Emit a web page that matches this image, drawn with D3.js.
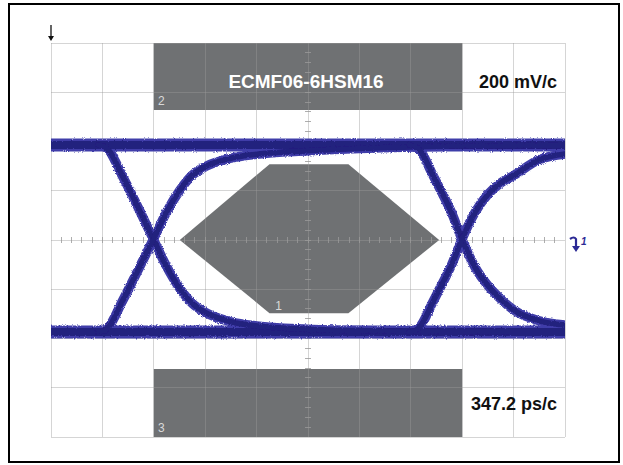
<!DOCTYPE html>
<html>
<head>
<meta charset="utf-8">
<script src="https://cdn.jsdelivr.net/npm/d3@7"></script>
<style>
  html, body { margin: 0; padding: 0; background: #fff; }
  svg { display: block; }
  text { font-family: "Liberation Sans", Arial, sans-serif; }
</style>
</head>
<body>
<svg id="chart" width="623" height="465"></svg>
<script>
// Scope settings
const timePerDivPs = 347.2;
const voltPerDivMv = 200;
const timeDivs = 10;
const voltDivs = 8;
const deviceName = "ECMF06-6HSM16";
const voltLabel = "200 mV/c";
const timeLabel = "347.2 ps/c";

// Steady logic levels (mV) across the whole record
const railHighMv = 386;
const railLowMv = -374;
const railSpanPs = [0, 3472];

// Transitions through the first crossing, [time ps, level mV]
const fallLeft = [[320,386],[360,380],[399,358],[434,320],[469,276],[521,215],[608,108],[694,0],
  [781,-108],[868,-195],[955,-258],[1042,-294],[1215,-332],[1389,-349],[1736,-362],[2083,-368],
  [2430,-371],[2778,-372],[3472,-373]];
const riseLeft = [[320,-374],[360,-368],[399,-346],[434,-308],[469,-264],[521,-203],[608,-98],[694,6],
  [781,114],[868,200],[955,264],[1042,298],[1215,332],[1389,348],[1736,362],[2083,372],
  [2430,378],[2778,382],[3472,384]];
// Transitions through the second crossing
const fallRight = [[2420,386],[2460,380],[2500,358],[2535,320],[2569,276],[2621,215],[2708,108],[2778,0],
  [2864,-110],[2951,-185],[3038,-240],[3125,-284],[3298,-328],[3472,-345]];
const riseRight = [[2420,-374],[2460,-368],[2500,-346],[2535,-308],[2569,-264],[2621,-203],[2708,-98],[2778,6],
  [2864,112],[2951,185],[3038,232],[3125,262],[3298,326],[3472,349]];

// Mask regions (time ps, level mV)
const maskTop = [[694.4,800],[2777.6,800],[2777.6,528],[694.4,528]];
const maskBottom = [[694.4,-524],[2777.6,-524],[2777.6,-800],[694.4,-800]];
const maskEye = [[870,0],[1476,308],[2009,308],[2622,0],[2009,-297],[1476,-297]];
const maskLabels = [
  { name: "2", t: 722, v: 548 },
  { name: "1", t: 1515, v: -285 },
  { name: "3", t: 722, v: -780 }
];

const svg = d3.select("#chart");
const plot = { left: 51, right: 565, top: 43, bottom: 437 };

const x = d3.scaleLinear().domain([0, timePerDivPs * timeDivs]).range([plot.left, plot.right]);
const y = d3.scaleLinear().domain([-voltPerDivMv * voltDivs / 2, voltPerDivMv * voltDivs / 2]).range([plot.bottom, plot.top]);

// Outer frame
svg.append("rect")
  .attr("x", 9).attr("y", 4).attr("width", 610).attr("height", 458)
  .attr("fill", "none").attr("stroke", "#000").attr("stroke-width", 2);

const defs = svg.append("defs");
defs.append("clipPath").attr("id", "plotClip")
  .append("rect").attr("x", plot.left).attr("y", plot.top)
  .attr("width", plot.right - plot.left).attr("height", plot.bottom - plot.top);

const fuzz = defs.append("filter").attr("id", "fuzz")
  .attr("x", "-5%").attr("y", "-20%").attr("width", "110%").attr("height", "140%");
fuzz.append("feTurbulence").attr("type", "fractalNoise").attr("baseFrequency", "0.9")
  .attr("numOctaves", 2).attr("seed", 3).attr("result", "noise");
fuzz.append("feDisplacementMap").attr("in", "SourceGraphic").attr("in2", "noise")
  .attr("scale", 3).attr("xChannelSelector", "R").attr("yChannelSelector", "G");

const poly = d3.line().x(d => x(d[0])).y(d => y(d[1]));

// Masks
const maskColor = "#6f7173";
[maskTop, maskBottom, maskEye].forEach(m => {
  svg.append("path").attr("d", poly(m) + "Z").attr("fill", maskColor);
});

// Graticule
const grid = svg.append("g").attr("stroke", "#9c9c9c").attr("stroke-opacity", 0.42)
  .attr("stroke-width", 1).attr("shape-rendering", "crispEdges");
grid.selectAll("line.v").data(d3.range(0, timeDivs + 1)).join("line")
  .attr("x1", i => x(i * timePerDivPs)).attr("x2", i => x(i * timePerDivPs))
  .attr("y1", plot.top).attr("y2", plot.bottom);
grid.selectAll("line.h").data(d3.range(0, voltDivs + 1)).join("line")
  .attr("y1", i => y(-voltPerDivMv * voltDivs / 2 + i * voltPerDivMv))
  .attr("y2", i => y(-voltPerDivMv * voltDivs / 2 + i * voltPerDivMv))
  .attr("x1", plot.left).attr("x2", plot.right);

// Minor ticks on the centre axes
const ticks = svg.append("g").attr("stroke", "#9a9a9a").attr("stroke-opacity", 0.8)
  .attr("stroke-width", 1).attr("shape-rendering", "crispEdges");
ticks.selectAll("line.tx").data(d3.range(1, timeDivs * 5)).join("line")
  .attr("x1", i => x(i * timePerDivPs / 5)).attr("x2", i => x(i * timePerDivPs / 5))
  .attr("y1", y(0) - 3).attr("y2", y(0) + 3);
ticks.selectAll("line.ty").data(d3.range(1, voltDivs * 5)).join("line")
  .attr("y1", i => y(-voltPerDivMv * voltDivs / 2 + i * voltPerDivMv / 5))
  .attr("y2", i => y(-voltPerDivMv * voltDivs / 2 + i * voltPerDivMv / 5))
  .attr("x1", x(timePerDivPs * 5) - 3).attr("x2", x(timePerDivPs * 5) + 3);

// Mask numbers
svg.selectAll("text.mask").data(maskLabels).join("text")
  .attr("x", d => x(d.t)).attr("y", d => y(d.v))
  .attr("fill", "#d9d9d9").attr("font-size", 12).text(d => d.name);

// Eye traces
const traceLine = d3.line().x(d => x(d[0])).y(d => y(d[1])).curve(d3.curveMonotoneX);
const traces = svg.append("g").attr("clip-path", "url(#plotClip)");
const layer = traces.append("g").attr("filter", "url(#fuzz)").attr("fill", "none")
  .attr("stroke-linecap", "round").attr("stroke-linejoin", "round");

const rails = [
  railSpanPs.map(t => [t, railHighMv]),
  railSpanPs.map(t => [t, railLowMv])
];
const edges = [fallLeft, riseLeft, fallRight, riseRight];

rails.forEach(r => layer.append("path").attr("d", traceLine(r))
  .attr("stroke", "#3f3da9").attr("stroke-width", 13));
edges.forEach(e => layer.append("path").attr("d", traceLine(e))
  .attr("stroke", "#3f3da9").attr("stroke-width", 9.5));
rails.forEach(r => layer.append("path").attr("d", traceLine(r))
  .attr("stroke", "#23207e").attr("stroke-width", 8));
edges.forEach(e => layer.append("path").attr("d", traceLine(e))
  .attr("stroke", "#23207e").attr("stroke-width", 5.5));

// Titles and scale factors
svg.append("text").attr("x", x(1736) - 2).attr("y", 88)
  .attr("text-anchor", "middle").attr("fill", "#fff")
  .attr("font-size", 19).attr("font-weight", "bold").text(deviceName);
svg.append("text").attr("x", 557).attr("y", 88)
  .attr("text-anchor", "end").attr("fill", "#111")
  .attr("font-size", 18).attr("font-weight", "bold").text(voltLabel);
svg.append("text").attr("x", 557).attr("y", 410)
  .attr("text-anchor", "end").attr("fill", "#111")
  .attr("font-size", 18).attr("font-weight", "bold").text(timeLabel);

// Trigger position arrow (top-left)
const ax = x(0), ay = plot.top;
svg.append("line").attr("x1", ax).attr("x2", ax).attr("y1", ay - 18).attr("y2", ay - 6)
  .attr("stroke", "#111").attr("stroke-width", 1.3);
svg.append("path").attr("d", `M${ax - 3},${ay - 7} L${ax + 3},${ay - 7} L${ax},${ay - 2} Z`)
  .attr("fill", "#111");

// Trigger level marker (right)
const tx = plot.right + 5, ty = y(0);
svg.append("path").attr("d", `M${tx},${ty - 1} q4,-3 6,0 v9`)
  .attr("fill", "none").attr("stroke", "#2c2a95").attr("stroke-width", 2.2);
svg.append("path").attr("d", `M${tx + 2},${ty + 6} L${tx + 10},${ty + 6} L${tx + 6},${ty + 12} Z`)
  .attr("fill", "#2c2a95");
svg.append("text").attr("x", tx + 11).attr("y", ty + 5)
  .attr("fill", "#2c2a95").attr("font-size", 10).attr("font-weight", "bold")
  .attr("font-style", "italic").text("1");
</script>
</body>
</html>
